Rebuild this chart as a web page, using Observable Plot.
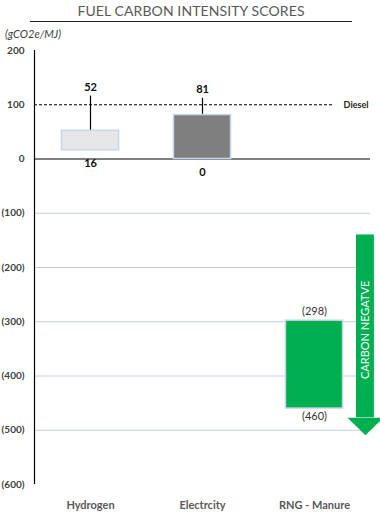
<!DOCTYPE html>
<html><head><meta charset="utf-8">
<script src="https://cdn.jsdelivr.net/npm/d3@7"></script>
<script src="https://cdn.jsdelivr.net/npm/@observablehq/plot@0.6"></script>
<style>
body{margin:0;background:#fff;font-family:Lato,"Open Sans",sans-serif;}
#wrap{position:relative;width:380px;height:517px;}
#title{position:absolute;left:30px;width:322px;top:2px;height:19px;border-bottom:1px solid #222;text-align:center;font-size:14px;color:#595959;letter-spacing:0.1px;}
#units{position:absolute;left:5px;top:27px;font-size:11px;font-style:italic;color:#404040;}
#chart{position:absolute;left:0;top:0;}
</style></head>
<body>
<div id="wrap">
<div id="chart"></div>
<div id="title">FUEL CARBON INTENSITY SCORES</div>
<div id="units">(gCO2e/MJ)</div>
</div>
<script>
const categories = ["Hydrogen", "Electrcity", "RNG - Manure"];
const lowValues = [16, 0, -460];
const highValues = [52, 81, -298];
const connectorTop = [116, 112, null];
const barColors = ["#e6e6e6", "#7f7f7f", "#00b050"];
const yTicks = [200, 100, 0, -100, -200, -300, -400, -500, -600];
const dieselValue = 100;
const arrowLabel = "CARBON NEGATVE";

const rows = categories.map((c, i) => ({cat: c, pos: i + 1, lo: lowValues[i], hi: highValues[i], top: connectorTop[i], color: barColors[i]}));
const fmt = d => d < 0 ? `(${-d})` : `${d}`;

const ax = 3.455, shaftW = 0.08, headW = 0.16;
const arrowTop = -140, headStart = -477, tip = -509;
const head = [{x: ax - headW, y: headStart}, {x: ax + headW, y: headStart}, {x: ax, y: tip}, {x: ax - headW, y: headStart}];

const chart = Plot.plot({
  width: 380, height: 517,
  marginTop: 50, marginBottom: 33, marginLeft: 34, marginRight: 10,
  style: {fontFamily: "Lato, 'Open Sans', sans-serif", background: "#fff", overflow: "visible"},
  x: {domain: [0.5, 3.5], axis: null},
  y: {domain: [-600, 200], axis: null},
  marks: [
    Plot.ruleY(yTicks.filter(d => d < 0 && d > -600), {x1: 0.5, x2: 3.5, stroke: "#c3cedd", strokeWidth: 1}),
    Plot.ruleY([dieselValue], {x1: 0.5, x2: 3.17, stroke: "#000", strokeDasharray: "3,2", strokeWidth: 1}),
    Plot.text(["Diesel"], {x: 3.26, y: dieselValue, textAnchor: "start", fontSize: 9, fontWeight: "bold", fill: "#222"}),
    Plot.ruleY([0], {x1: 0.5, x2: 3.5, stroke: "#000", strokeWidth: 1.2}),
    Plot.ruleX([0.5], {y1: -600, y2: 200, stroke: "#000", strokeWidth: 1.2}),
    Plot.axisY({ticks: yTicks, tickFormat: fmt, tickSize: 0, tickPadding: 10, fontSize: 10, fontWeight: "bold", color: "#404040"}),
    Plot.axisX({ticks: [1, 2, 3], tickFormat: d => categories[d - 1], tickSize: 0, tickPadding: 17, fontSize: 11, fontWeight: "bold", color: "#595959", anchor: "bottom"}),
    Plot.ruleX(rows.filter(d => d.top != null), {x: "pos", y1: "hi", y2: "top", stroke: "#000", strokeWidth: 1.2}),
    Plot.rect(rows, {x1: d => d.pos - 0.255, x2: d => d.pos + 0.255, y1: "lo", y2: "hi", fill: "color", stroke: "#c8d6ea", strokeWidth: 1.5}),
    Plot.text(rows.filter(d => d.top != null), {x: "pos", y: "top", text: d => fmt(d.hi), dy: -9, fontSize: 11, fontWeight: "bold", fill: "#111"}),
    Plot.text(rows.filter(d => d.top != null), {x: "pos", y: "lo", text: d => fmt(d.lo), dy: 13, fontSize: 11, fontWeight: "bold", fill: "#111"}),
    Plot.text(rows.filter(d => d.top == null), {x: "pos", y: "hi", text: d => fmt(d.hi), dy: -9, fontSize: 11, fill: "#333"}),
    Plot.text(rows.filter(d => d.top == null), {x: "pos", y: "lo", text: d => fmt(d.lo), dy: 8, fontSize: 11, fill: "#333"}),
    Plot.rect([0], {x1: ax - shaftW, x2: ax + shaftW, y1: headStart, y2: arrowTop, fill: "#00b050"}),
    Plot.line(head, {x: "x", y: "y", fill: "#00b050", stroke: "none"}),
    Plot.text([arrowLabel], {x: ax, y: -315, rotate: -90, fill: "#fff", fontSize: 11})
  ]
});
document.getElementById("chart").appendChild(chart);
</script>
</body></html>
